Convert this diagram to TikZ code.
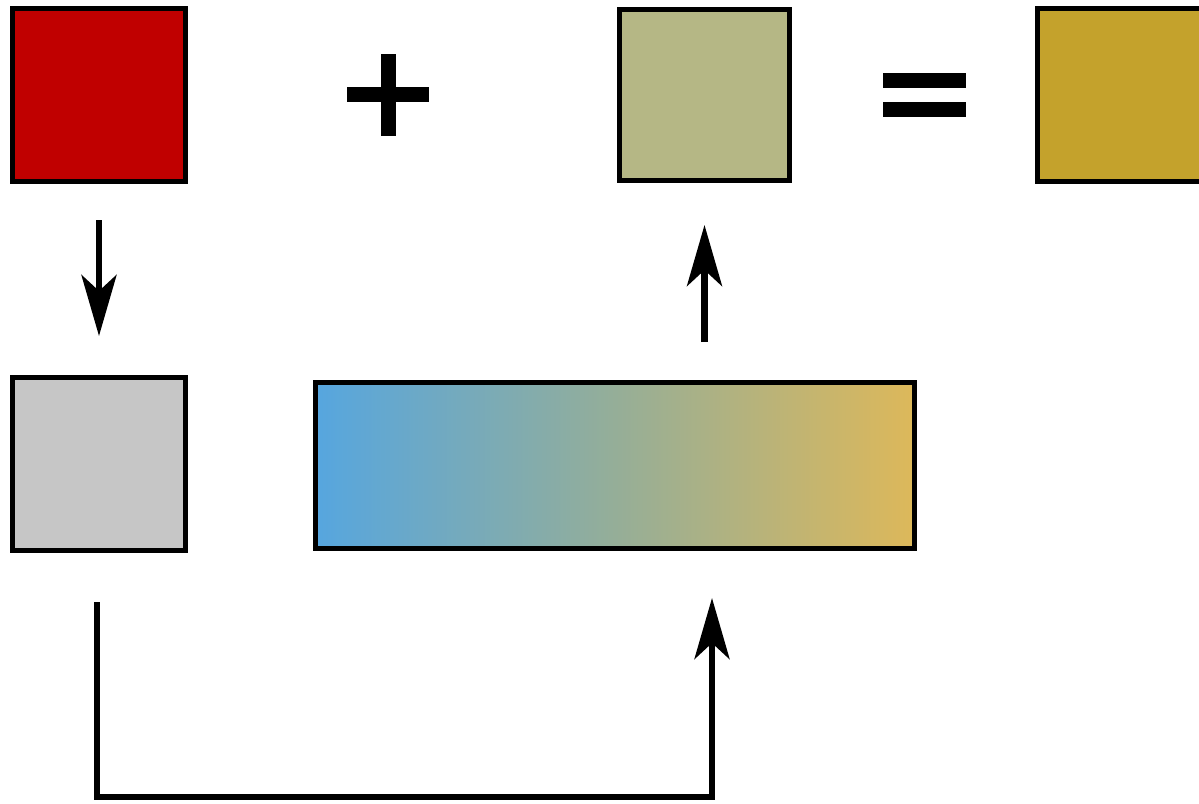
\documentclass[tikz,border=0pt]{standalone}
\usetikzlibrary{arrows.meta}
\definecolor{cred}{HTML}{C00000}
\definecolor{colive}{HTML}{B5B785}
\definecolor{cgold}{HTML}{C4A22C}
\definecolor{cgray}{HTML}{C6C6C6}
\definecolor{gleft}{HTML}{56A6DF}
\definecolor{gmid}{HTML}{95AE98}
\definecolor{gright}{HTML}{DDB85A}
\tikzset{
  swatch/.style={draw=black, line width=5pt, minimum width=173pt, minimum height=173pt, inner sep=0pt},
  flow/.style={line width=6.5pt, -{Stealth[length=61pt, width=35pt, inset=16pt]}},
  plainline/.style={line width=7pt},
}
\begin{document}
\begin{tikzpicture}[x=1pt, y=-1pt]
\clip (0,0) rectangle (1199,803);
\fill[white] (0,0) rectangle (1199,803);
% swatches
\node[swatch, fill=cred] (red) at (99,95) {};
\node[swatch, fill=colive, minimum width=170pt, minimum height=171pt] (olive) at (704.5,95) {};
\node[swatch, fill=cgold] (gold) at (1124,95) {};
\node[swatch, fill=cgray] (gray) at (99,464) {};
\node[swatch, minimum width=599pt, minimum height=166pt,
      left color=gleft, right color=gright, middle color=gmid] (bar) at (615,465.5) {};
% plus sign
\fill (347,87) rectangle (429,102);
\fill (381,54) rectangle (396,136);
% equals sign
\fill (883,73) rectangle (966,88);
\fill (883,102) rectangle (966,117);
% connectors
\draw[flow, shorten <=36pt, shorten >=39pt] (red.south) -- (gray.north);
\draw[flow, shorten <=38pt, shorten >=42pt] (olive.south |- bar.north) -- (olive.south);
\coordinate (turn) at (712,797);
\draw[flow, shorten <=49pt, shorten >=47pt] ([xshift=-2pt]gray.south) |- (turn) -- (turn |- bar.south);
\end{tikzpicture}
\end{document}
